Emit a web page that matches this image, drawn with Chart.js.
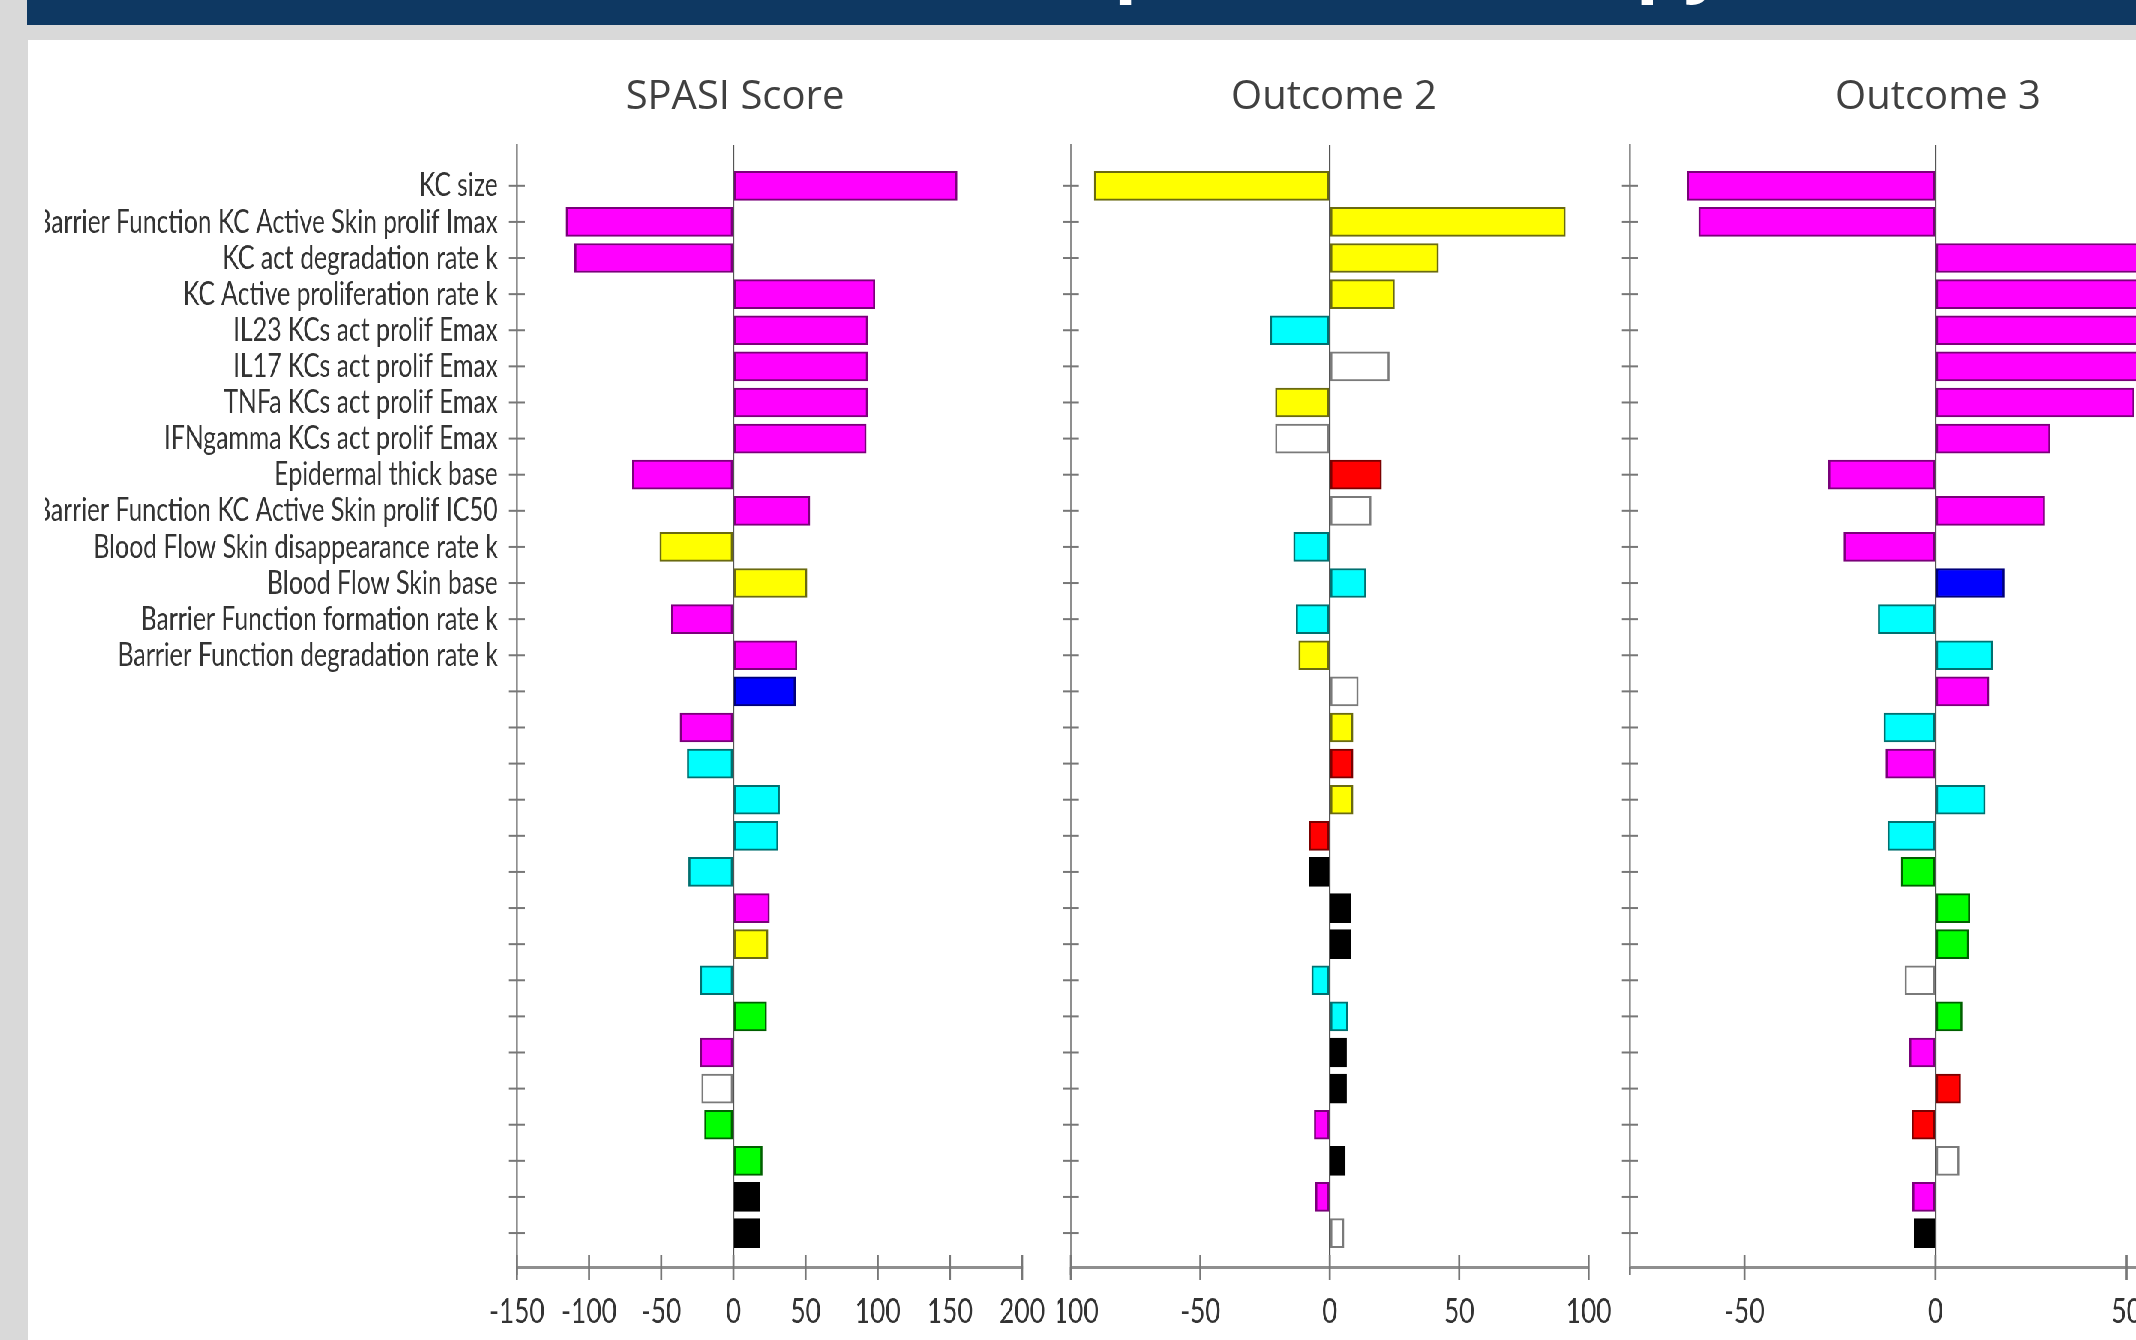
<!DOCTYPE html>
<html><head><meta charset="utf-8">
<script src="https://cdn.jsdelivr.net/npm/chart.js@4.4.0/dist/chart.umd.min.js"></script>
<style>
html,body{margin:0;padding:0;width:2136px;height:1340px;overflow:hidden;background:#d9d9d9;position:relative;}
#banner{position:absolute;left:27px;top:0;width:2109px;height:25px;background:#0e3862;overflow:hidden;}
#bannerText{position:absolute;font-family:'Open Sans';font-weight:bold;color:#fff;white-space:nowrap;}
#panel{position:absolute;left:28px;top:40px;width:2108px;height:1300px;background:#fff;}
#stage{position:absolute;left:0;top:0;height:1340px;transform-origin:0 0;}
#stage canvas{position:absolute;top:0;}
.ptitle{position:absolute;top:69px;font:40px 'Open Sans';line-height:50px;color:#404040;white-space:nowrap;transform:translateX(-50%);}
</style></head>
<body>
<div id="banner"><div id="bannerText">Parameter Impact on Therapy</div></div>
<div id="panel"></div>
<div id="stage"></div>
<script>
// ---------------- data ----------------
const panelTitles = ["SPASI Score", "Outcome 2", "Outcome 3"];
const rowLabels = ["KC size","Barrier Function KC Active Skin prolif Imax","KC act degradation rate k",
  "KC Active proliferation rate k","IL23 KCs act prolif Emax","IL17 KCs act prolif Emax",
  "TNFa KCs act prolif Emax","IFNgamma KCs act prolif Emax","Epidermal thick base",
  "Barrier Function KC Active Skin prolif IC50","Blood Flow Skin disappearance rate k",
  "Blood Flow Skin base","Barrier Function formation rate k","Barrier Function degradation rate k",
  "","","","","","","","","","","","","","","",""];
const spasiValues = [155,-116,-110,98,93,93,93,92,-70,53,-51,51,-43,44,43,-37,-32,32,31,-31,25,24,-23,23,-23,-22,-20,20,18,18];
const spasiGroups = ["M","M","M","M","M","M","M","M","M","M","Y","Y","M","M","B","M","C","C","C","C","M","Y","C","G","M","W","G","G","K","K"];
const outcome2Values = [-91,91,42,25,-23,23,-21,-21,20,16,-14,14,-13,-12,11,9,9,9,-8,-8,8,8,-7,7,6.5,6.5,-6,6,-5.5,5.5];
const outcome2Groups = ["Y","Y","Y","Y","C","W","Y","W","R","W","C","C","C","Y","W","Y","R","Y","R","K","K","K","C","C","K","K","M","K","M","W"];
const outcome3Values = [-65,-62,62,58,56,54,52,30,-28,28.6,-24,18,-15,15,14,-13.5,-13,13,-12.5,-9,9,8.7,-8,7,-6.8,6.6,-6.2,6.2,-6,-5.6];
const outcome3Groups = ["M","M","M","M","M","M","M","M","M","M","M","B","C","C","M","C","M","C","C","G","G","G","W","G","M","R","R","W","M","K"];
const spasiTicks = [-150,-100,-50,0,50,100,150,200];
const outcome2Ticks = [-100,-50,0,50,100];
const outcome3Ticks = [-50,0,50];

// ---------------- styles ----------------
const FILL = {M:'#ff00ff',Y:'#ffff00',C:'#00ffff',B:'#0000ff',R:'#ff0000',G:'#00ff00',K:'#000000',W:'#ffffff'};
const EDGE = {M:'#7a007a',Y:'#6a6a10',C:'#007070',B:'#00007a',R:'#7a0000',G:'#006000',K:'#000000',W:'#7a7a7a'};
const SX = 0.75;           // horizontal compression of the original figure
const H = 1340, TOP = 145, AXIS_Y = 1267, PANEL_TOP = 40;
Chart.defaults.font.family = 'Lato';
Chart.defaults.color = '#333';

const layout = [
  {vals:spasiValues, groups:spasiGroups, ticks:spasiTicks, min:-150, max:200, labels:true,
   cl:45, cr:1130, al:517, ar:1022, bg:1058, z:3, tx:735},
  {vals:outcome2Values, groups:outcome2Groups, ticks:outcome2Ticks, min:-100, max:100, labels:false,
   cl:990, cr:1660, al:1071, ar:1589, bg:null, z:2, tx:1334},
  {vals:outcome3Values, groups:outcome3Groups, ticks:outcome3Ticks, min:-80, max:80, labels:false,
   cl:1560, cr:2420, al:1630, ar:2241, bg:null, z:1, tx:1938}
];

const axisExtras = {
  id:'axisExtras',
  beforeDraw(chart, args, opts){
    if (opts.bg){ const c=chart.ctx; c.save(); c.fillStyle='#fff'; c.fillRect(0,PANEL_TOP,opts.bg,chart.height-PANEL_TOP); c.restore(); }
  },
  afterDraw(chart){
    const c=chart.ctx, xs=chart.scales.x, ys=chart.scales.y, a=chart.chartArea;
    c.save();
    c.strokeStyle='#777';
    c.lineWidth=2/SX;
    xs.ticks.forEach(t=>{const px=xs.getPixelForValue(t.value);c.beginPath();c.moveTo(px,a.bottom-12);c.lineTo(px,a.bottom+13);c.stroke();});
    c.beginPath();c.moveTo(a.left,a.bottom);c.lineTo(a.left,a.bottom+8);c.stroke();
    c.lineWidth=2;
    ys.ticks.forEach(t=>{const py=ys.getPixelForValue(t.value);c.beginPath();c.moveTo(a.left-8/SX,py);c.lineTo(a.left+8/SX,py);c.stroke();});
    c.restore();
  }
};

const stage = document.getElementById('stage');
stage.style.width = Math.ceil(2420/SX)+'px';
stage.style.transform = 'scaleX('+SX+')';

layout.forEach((p,k)=>{
  const cv = document.createElement('canvas');
  const w = Math.round((p.cr-p.cl)/SX);
  cv.width = w; cv.height = H;
  cv.style.left = (p.cl/SX)+'px';
  cv.style.zIndex = p.z;
  stage.appendChild(cv);
  const yW = (p.al-p.cl)/SX;
  new Chart(cv, {
    type:'bar',
    data:{datasets:[{
      data:p.vals.map((v,i)=>({x:v,y:i+1})),
      backgroundColor:p.groups.map(g=>FILL[g]),
      borderColor:p.groups.map(g=>EDGE[g]),
      borderWidth:{top:2,bottom:2,left:2/SX,right:2/SX},
      borderSkipped:false,
      barThickness:29
    }]},
    options:{
      indexAxis:'y', responsive:false, animation:false, devicePixelRatio:1,
      layout:{padding:{top:TOP,left:0,right:(p.cr-p.ar)/SX,bottom:0}},
      plugins:{legend:{display:false},tooltip:{enabled:false},title:{display:false},
        axisExtras:{bg: p.bg ? (p.bg-p.cl)/SX : null}},
      scales:{
        x:{type:'linear',min:p.min,max:p.max,bounds:'data',offset:false,
          afterBuildTicks:s=>{s.ticks=p.ticks.map(v=>({value:v}));},
          ticks:{autoSkip:false,maxRotation:0,padding:24,color:'#333',font:{size:35}},
          grid:{drawTicks:false,drawOnChartArea:true,offset:false,
            color:c=>(c.tick&&c.tick.value===0)?'#555':'rgba(0,0,0,0)',lineWidth:1.6/SX},
          border:{display:true,color:'#8f8f8f',width:3},
          afterFit:s=>{s.height=H-AXIS_Y;}},
        y:{type:'linear',reverse:true,min:-0.13,max:30.94,bounds:'data',offset:false,
          afterBuildTicks:s=>{s.ticks=rowLabels.map((_,i)=>({value:i+1}));},
          ticks:{display:p.labels,autoSkip:false,padding:19/SX,color:'#333',font:{size:33},
            callback:v=>rowLabels[v-1]||''},
          grid:{display:false,drawTicks:false,offset:false},
          border:{display:true,color:'#8f8f8f',width:2/SX},
          afterFit:s=>{s.width=yW;}}
      }
    },
    plugins:[axisExtras]
  });
  const t = document.createElement('div');
  t.className='ptitle'; t.style.left=p.tx+'px'; t.textContent=panelTitles[k];
  document.body.appendChild(t);
});

// banner title: only descenders visible
(function(){
  const el=document.getElementById('bannerText');
  const m=document.createElement('canvas').getContext('2d');
  m.font='bold 100px "Open Sans"';
  const span=m.measureText('pact on Thera').width;
  const fs=Math.round(100*521/span);
  m.font='bold '+fs+'px "Open Sans"';
  const pre=m.measureText('Parameter Im').width;
  el.style.fontSize=fs+'px'; el.style.lineHeight=fs+'px';
  el.style.left=(1120-27-pre-0.08*fs)+'px';
  el.style.top=(6-0.24*fs-0.888*fs)+'px';
})();
</script>
</body></html>
